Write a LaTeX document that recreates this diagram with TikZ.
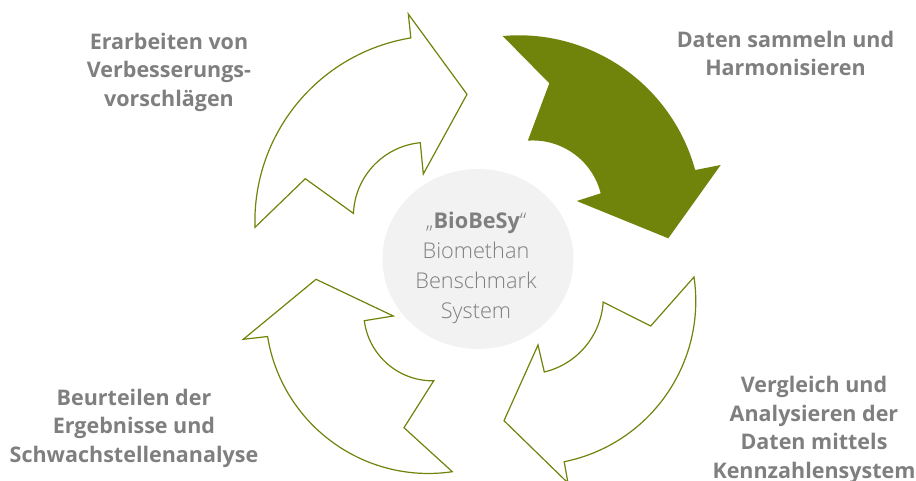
\documentclass[tikz,border=0pt]{standalone}
\usepackage{fontspec}
\setmainfont{Open Sans}
\newfontfamily\lightfont{Open Sans Light}
\definecolor{arrowgreen}{RGB}{112,131,10}
\definecolor{labelgray}{RGB}{127,127,127}
\definecolor{circgray}{RGB}{242,242,242}
\tikzset{
  outarrow/.style={draw=arrowgreen, line width=1.2pt, fill=white, line join=miter},
  fullarrow/.style={fill=arrowgreen},
  steplabel/.style={font=\bfseries\fontsize{21.5}{28.5}\selectfont, text=labelgray, align=center, inner sep=0pt, anchor=base},
  centerlabel/.style={font=\lightfont\fontsize{21.7}{29.7}\selectfont, text=labelgray, align=center, inner sep=0pt, anchor=base}
}
\begin{document}
\begin{tikzpicture}[x=1pt,y=-1pt]
\useasboundingbox (0,0) rectangle (916,480);
\clip (0,0) rectangle (916,480);
\fill[circgray] (478,259) ellipse [x radius=95.5, y radius=90];
% top-left arrow
\draw[outarrow] (255,227.3) arc[start angle=178.2, end angle=260.7, radius=186]
  -- (408.3,14) -- (467,94.3) -- (423.3,174) -- (420.3,142.7)
  arc[start angle=264.5, end angle=182.3, radius=74]
  -- (305.3,178.7) -- cycle;
% top-right arrow (filled)
\fill[fullarrow] (502.7,36) arc[start angle=265, end angle=344.7, radius=183]
  -- (720.7,165) -- (668.3,238.3) -- (576.7,201) -- (600.7,193.3)
  arc[start angle=345.8, end angle=265.9, radius=70]
  -- (549.3,83.3) -- cycle;
% bottom-right arrow
\draw[outarrow] (694,277) arc[start angle=-8.4, end angle=78.6, radius=164]
  -- (568,483) -- (504,420.7) -- (538,345) -- (544.3,372)
  arc[start angle=76.5, end angle=3.7, radius=77]
  -- (650.7,326) -- cycle;
% bottom-left arrow
\draw[outarrow] (316,279.3) -- (393.3,316) -- (364.3,320.7)
  arc[start angle=172.6, end angle=89.2, radius=69]
  -- (404,427.7) -- (452.3,471.7)
  arc[start angle=81.6, end angle=170.8, radius=163]
  -- (243.3,339.3) -- cycle;
\node[steplabel] (t1) at (169,106) {Erarbeiten von\\Verbesserungs-\\vorschlägen};
\node[steplabel] (t2) at (785.5,75.7) {Daten sammeln und\\Harmonisieren};
\node[steplabel] (t3) at (814,478) {Vergleich und\\Analysieren der\\Daten mittels\\Kennzahlensystem};
\node[steplabel] (t4) at (134,462) {Beurteilen der\\Ergebnisse und\\Schwachstellenanalyse};
\node[centerlabel] (c) at (476,318) {„{\normalfont\bfseries BioBeSy}“\\Biomethan\\Benschmark\\System};
\end{tikzpicture}
\end{document}
